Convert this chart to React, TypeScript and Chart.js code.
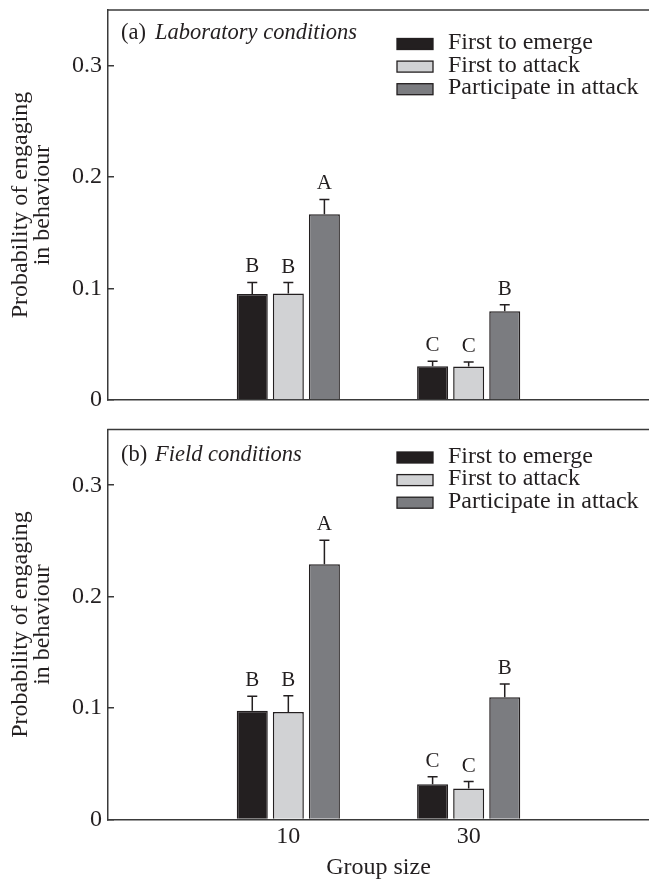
import React, { useEffect, useRef } from 'react';
import { Chart, registerables } from 'chart.js';

Chart.register(...registerables);

// ---------- data ----------
const groupSizes = [10, 30];
const seriesNames = ['First to emerge', 'First to attack', 'Participate in attack'];
const yTicks = [0, 0.1, 0.2, 0.3];
const yTickLabels = ['0', '0.1', '0.2', '0.3'];

const labEmerge = [0.0951, 0.0302];
const labAttack = [0.0956, 0.0300];
const labParticipate = [0.1668, 0.0796];
const labEmergeErr = [0.0104, 0.0045];
const labAttackErr = [0.0098, 0.0040];
const labParticipateErr = [0.0132, 0.0059];
const labEmergeLetters = ['B', 'C'];
const labAttackLetters = ['B', 'C'];
const labParticipateLetters = ['A', 'B'];

const fieldEmerge = [0.0975, 0.0317];
const fieldAttack = [0.0965, 0.0278];
const fieldParticipate = [0.2290, 0.1097];
const fieldEmergeErr = [0.0130, 0.0066];
const fieldAttackErr = [0.0145, 0.0063];
const fieldParticipateErr = [0.0215, 0.0118];
const fieldEmergeLetters = ['B', 'C'];
const fieldAttackLetters = ['B', 'C'];
const fieldParticipateLetters = ['A', 'B'];

// ---------- style ----------
const serif = '"Liberation Serif", "Times New Roman", serif';
const textColor = '#231f20';
const axisColor = '#3a3a3a';
const seriesColors = ['#231f20', '#d1d2d4', '#7b7c80'];

type Series = { values: number[]; errors: number[]; letters: string[] };

type PanelProps = {
  top: number;
  height: number;
  padTop: number;
  xAxisHeight: number;
  showX: boolean;
  tag: string;
  condition: string;
  series: Series[];
  titleOffset: number;
  legendOffset: number;
};

function Panel(props: PanelProps) {
  const ref = useRef<HTMLCanvasElement>(null);
  useEffect(() => {
    const { padTop, xAxisHeight, showX, tag, condition, series, titleOffset, legendOffset } = props;

    const decorPlugin = {
      id: 'decor',
      afterDatasetsDraw(chart: any) {
        const { ctx } = chart;
        const yScale = chart.scales.y;
        ctx.save();
        chart.data.datasets.forEach((ds: any, di: number) => {
          const meta = chart.getDatasetMeta(di);
          meta.data.forEach((el: any, j: number) => {
            const v = series[di].values[j];
            const e = series[di].errors[j];
            const capY = yScale.getPixelForValue(v + e);
            const x = el.x;
            ctx.strokeStyle = textColor;
            ctx.lineWidth = 1.5;
            ctx.beginPath();
            ctx.moveTo(x, el.y);
            ctx.lineTo(x, capY);
            ctx.moveTo(x - 5, capY);
            ctx.lineTo(x + 5, capY);
            ctx.stroke();
            ctx.fillStyle = textColor;
            ctx.font = `21px ${serif}`;
            ctx.textAlign = 'center';
            ctx.textBaseline = 'alphabetic';
            ctx.fillText(series[di].letters[j], x, capY - 10);
          });
        });
        ctx.restore();
      },
      afterDraw(chart: any) {
        const { ctx, chartArea } = chart;
        ctx.save();
        // top frame line
        ctx.strokeStyle = axisColor;
        ctx.lineWidth = 1.5;
        ctx.beginPath();
        ctx.moveTo(chartArea.left - 0.75, chartArea.top);
        ctx.lineTo(chartArea.right, chartArea.top);
        ctx.stroke();
        // panel title
        ctx.fillStyle = textColor;
        ctx.textBaseline = 'middle';
        ctx.textAlign = 'left';
        const ty = chartArea.top + titleOffset;
        ctx.font = `22.5px ${serif}`;
        ctx.fillText(tag, chartArea.left + 13, ty);
        ctx.font = `italic 22.5px ${serif}`;
        ctx.fillText(condition, chartArea.left + 47, ty);
        // legend
        ctx.font = `24px ${serif}`;
        chart.data.datasets.forEach((ds: any, i: number) => {
          const cy = chartArea.top + legendOffset + i * 22.6;
          ctx.fillStyle = ds.backgroundColor;
          ctx.fillRect(chartArea.left + 289, cy - 5.5, 36, 11);
          ctx.strokeStyle = textColor;
          ctx.lineWidth = 1.3;
          ctx.strokeRect(chartArea.left + 289, cy - 5.5, 36, 11);
          ctx.fillStyle = textColor;
          ctx.fillText(ds.label, chartArea.left + 340, cy - 1);
        });
        ctx.restore();
      },
    };

    const chart = new Chart(ref.current as HTMLCanvasElement, {
      type: 'bar',
      data: {
        datasets: series.map((s, i) => ({
          label: seriesNames[i],
          data: groupSizes.map((g, j) => ({ x: g, y: s.values[j] })),
          backgroundColor: seriesColors[i],
          borderColor: textColor,
          borderWidth: 1.5,
          categoryPercentage: 0.6,
          barPercentage: 0.86,
        })),
      } as any,
      options: {
        animation: false,
        responsive: false,
        maintainAspectRatio: false,
        layout: { padding: { top: padTop, left: 0, right: 0, bottom: 0 } },
        plugins: { legend: { display: false }, tooltip: { enabled: false } },
        scales: {
          x: {
            type: 'linear',
            min: -10,
            max: 50,
            offset: false,
            afterBuildTicks: (s: any) => {
              s.ticks = groupSizes.map((v) => ({ value: v }));
            },
            afterFit: (s: any) => {
              s.height = xAxisHeight;
              s.paddingLeft = 0;
              s.paddingRight = 0;
            },
            grid: { display: false, drawTicks: false },
            border: { display: true, color: axisColor, width: 1.5 },
            ticks: {
              display: showX,
              padding: 3,
              color: textColor,
              font: { family: serif, size: 24 },
              callback: (v: any) => String(v),
            },
            title: {
              display: showX,
              text: 'Group size',
              color: textColor,
              font: { family: serif, size: 24, lineHeight: 1.1 },
              padding: { top: 0, bottom: 0 },
            },
          },
          y: {
            min: 0,
            max: 0.35,
            afterBuildTicks: (s: any) => {
              s.ticks = yTicks.map((v) => ({ value: v }));
            },
            afterFit: (s: any) => {
              s.width = 108;
              s.paddingTop = 0;
              s.paddingBottom = 0;
            },
            grid: {
              display: true,
              drawOnChartArea: false,
              drawTicks: true,
              tickLength: -6,
              color: axisColor,
              lineWidth: 1.5,
            },
            border: { display: true, color: axisColor, width: 1.5 },
            ticks: {
              padding: 12,
              color: textColor,
              font: { family: serif, size: 24 },
              callback: (_v: any, i: number) => yTickLabels[i],
            },
            title: {
              display: true,
              text: ['Probability of engaging', 'in behaviour'],
              color: textColor,
              font: { family: serif, size: 24, lineHeight: 0.95 },
              padding: { top: 9, bottom: 0 },
            },
          },
        },
      } as any,
      plugins: [decorPlugin],
    });
    return () => chart.destroy();
  }, []);

  return (
    <canvas
      ref={ref}
      width={649}
      height={props.height}
      style={{ position: 'absolute', left: 0, top: props.top, width: 649, height: props.height, display: 'block' }}
    />
  );
}

export default function App() {
  const labSeries: Series[] = [
    { values: labEmerge, errors: labEmergeErr, letters: labEmergeLetters },
    { values: labAttack, errors: labAttackErr, letters: labAttackLetters },
    { values: labParticipate, errors: labParticipateErr, letters: labParticipateLetters },
  ];
  const fieldSeries: Series[] = [
    { values: fieldEmerge, errors: fieldEmergeErr, letters: fieldEmergeLetters },
    { values: fieldAttack, errors: fieldAttackErr, letters: fieldAttackLetters },
    { values: fieldParticipate, errors: fieldParticipateErr, letters: fieldParticipateLetters },
  ];
  return (
    <div style={{ position: 'absolute', left: 0, top: 0, width: 649, height: 881, background: '#ffffff', overflow: 'hidden' }}>
      <Panel
        top={0}
        height={415}
        padTop={10}
        xAxisHeight={15}
        showX={false}
        tag="(a)"
        condition="Laboratory conditions"
        series={labSeries}
        titleOffset={23}
        legendOffset={34}
      />
      <Panel
        top={415}
        height={466}
        padTop={14.5}
        xAxisHeight={61.5}
        showX={true}
        tag="(b)"
        condition="Field conditions"
        series={fieldSeries}
        titleOffset={26}
        legendOffset={28}
      />
    </div>
  );
}
